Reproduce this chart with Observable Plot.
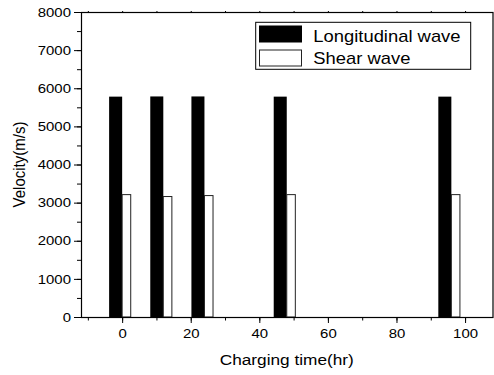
<!DOCTYPE html>
<html>
<head>
<meta charset="utf-8">
<script src="https://cdn.jsdelivr.net/npm/d3@7"></script>
<script src="https://cdn.jsdelivr.net/npm/@observablehq/plot@0.6"></script>
<style>
  html, body { margin: 0; padding: 0; background: white; }
</style>
</head>
<body>
<div id="chart"></div>
<script>
// Data
const times = [0, 12, 24, 48, 96];
const longitudinal = [5780, 5785, 5785, 5780, 5780];
const shear = [3210, 3160, 3185, 3210, 3210];
const seriesNames = ["Longitudinal wave", "Shear wave"];
const xTicks = [0, 20, 40, 60, 80, 100];
const yTicks = [0, 1000, 2000, 3000, 4000, 5000, 6000, 7000, 8000];
const xTitle = "Charging time(hr)";
const yTitle = "Velocity(m/s)";

const rows = times.map((t, i) => ({t, L: longitudinal[i], S: shear[i]}));
const LW = 3.8, SW = 2.5; // bar widths in x units
const STRETCH = 1.15;
const font = "'Liberation Sans', Arial, sans-serif";

const xMinor = d3.range(-10, 110, 10);
const yMinor = d3.range(0, 8001, 500);

const plot = Plot.plot({
  width: 494,
  height: 375,
  marginLeft: 81,
  marginRight: 1.5,
  marginTop: 12,
  marginBottom: 58,
  x: {domain: [-12, 108]},
  y: {domain: [0, 8000]},
  style: {fontFamily: font, fontSize: "13px", color: "black", background: "white", overflow: "visible"},
  marks: [
    Plot.rectY(rows, {x1: d => d.t - LW, x2: "t", y: "L", fill: "black"}),
    Plot.rectY(rows, {x1: "t", x2: d => d.t + SW, y: "S", fill: "white", stroke: "#222", strokeWidth: 1}),
    Plot.axisX({ticks: xMinor, tickSize: 3.5, tickFormat: () => "", label: null}),
    Plot.axisX({ticks: xTicks, tickSize: 6, tickPadding: 5, tickFormat: d3.format("d"), label: null}),
    Plot.axisX({anchor: "top", ticks: xMinor, tickSize: 2, tickFormat: () => "", label: null}),
    Plot.axisY({ticks: yMinor, tickSize: 4, tickFormat: () => "", label: null}),
    Plot.axisY({ticks: yTicks, tickSize: 7, tickPadding: 3.5, tickFormat: d3.format("d"), label: null}),
    Plot.frame({stroke: "black", strokeWidth: 1.2})
  ]
});

// Horizontal stretch of the tick labels, as in the reference
d3.select(plot).selectAll("text").each(function() {
  const el = d3.select(this);
  const tr = el.attr("transform") || "";
  el.attr("transform", `${tr} scale(${STRETCH},1)`);
});

const svg = d3.select(plot);
const [x0, x1] = [81, 494 - 1.5];
const [y0, y1] = [12, 375 - 58];

// Axis titles
svg.append("text")
  .attr("transform", `translate(${(x0 + x1) / 2},365) scale(${STRETCH},1)`)
  .attr("text-anchor", "middle")
  .style("font", `15px ${font}`)
  .attr("fill", "black")
  .text(xTitle);

svg.append("text")
  .attr("transform", `translate(24.5,${(y0 + y1) / 2}) scale(${STRETCH},1) rotate(-90)`)
  .attr("text-anchor", "middle")
  .style("font", `15px ${font}`)
  .attr("fill", "black")
  .text(yTitle);

// Legend
const lg = svg.append("g").attr("text-anchor", "start");
lg.append("rect").attr("x", 255.7).attr("y", 22.3).attr("width", 215).attr("height", 47)
  .attr("fill", "white").attr("stroke", "black").attr("stroke-width", 1);
const swatches = [
  {fill: "black", stroke: "black", y: 26, ty: 41.7},
  {fill: "white", stroke: "#222", y: 50, ty: 63.5}
];
swatches.forEach((s, i) => {
  lg.append("rect").attr("x", 259.5).attr("y", s.y).attr("width", 42).attr("height", 16)
    .attr("fill", s.fill).attr("stroke", s.stroke).attr("stroke-width", 1);
  lg.append("text")
    .attr("transform", `translate(313.3,${s.ty}) scale(${STRETCH},1)`)
    .attr("text-anchor", "start")
    .style("font", `16px ${font}`)
    .attr("fill", "black")
    .text(seriesNames[i]);
});

document.getElementById("chart").appendChild(plot);
</script>
</body>
</html>
